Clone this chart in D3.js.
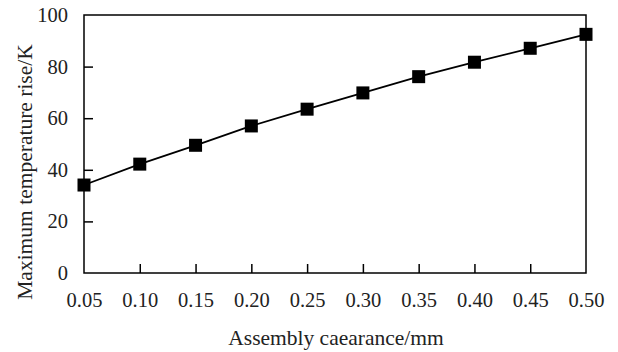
<!DOCTYPE html>
<html><head><meta charset="utf-8">
<script src="https://cdn.jsdelivr.net/npm/d3@7"></script>
<style>body{margin:0;background:#fff}svg{display:block}</style>
</head><body>
<svg id="c" width="618" height="352"></svg>
<script>
const clearance = [0.05,0.10,0.15,0.20,0.25,0.30,0.35,0.40,0.45,0.50];
const tempRise = [34.1,42.2,49.5,57.0,63.5,69.8,76.1,81.7,87.1,92.5];
const xTicks = [0.05,0.10,0.15,0.20,0.25,0.30,0.35,0.40,0.45,0.50];
const yTicks = [0,20,40,60,80,100];

const svg = d3.select("#c");
const L=84,R=586,T=15,B=273;
const x = d3.scaleLinear().domain([0.05,0.5]).range([L,R]);
const y = d3.scaleLinear().domain([0,100]).range([B,T]);
const font = "Liberation Serif, Times New Roman, serif";

svg.append("rect").attr("x",L).attr("y",T).attr("width",R-L).attr("height",B-T)
  .attr("fill","none").attr("stroke","#000").attr("stroke-width",1.5);

const xa = svg.append("g").attr("transform",`translate(0,${B})`)
  .call(d3.axisBottom(x).tickValues(xTicks).tickSize(-9).tickPadding(19).tickFormat(d3.format(".2f")));
const ya = svg.append("g").attr("transform",`translate(${L},0)`)
  .call(d3.axisLeft(y).tickValues(yTicks).tickSize(-9).tickPadding(16));
[xa,ya].forEach(a=>{
  a.select(".domain").remove();
  a.selectAll(".tick line").attr("stroke","#000").attr("stroke-width",1.5);
  a.selectAll(".tick text").attr("font-family",font).attr("font-size",20.5).attr("fill","#222");
});
xa.selectAll(".tick").filter(d=>d===0.05||d===0.5).select("line").remove();
ya.selectAll(".tick").filter(d=>d===0||d===100).select("line").remove();

svg.append("path").datum(clearance.map((c,i)=>[c,tempRise[i]]))
  .attr("fill","none").attr("stroke","#000").attr("stroke-width",1.8)
  .attr("d",d3.line().x(d=>x(d[0])).y(d=>y(d[1])));

svg.selectAll("rect.m").data(clearance.map((c,i)=>[c,tempRise[i]])).enter().append("rect")
  .attr("class","m").attr("x",d=>x(d[0])-6.5).attr("y",d=>y(d[1])-6.5)
  .attr("width",13).attr("height",13).attr("fill","#000");

svg.append("text").attr("x",336).attr("y",345).attr("text-anchor","middle")
  .attr("font-family",font).attr("font-size",21.5).attr("fill","#222").text("Assembly caearance/mm");
svg.append("text").attr("transform",`translate(32,172) rotate(-90)`).attr("text-anchor","middle")
  .attr("font-family",font).attr("font-size",21.5).attr("fill","#222").text("Maximum temperature rise/K");
</script>
</body></html>
